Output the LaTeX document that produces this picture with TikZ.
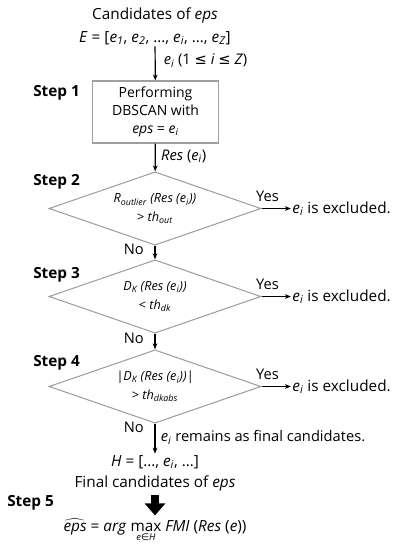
\documentclass[tikz,border=0pt]{standalone}
\usepackage{fontspec}
\setmainfont{Open Sans}
\newfontfamily\symfont{DejaVu Sans}
\usetikzlibrary{positioning, arrows.meta, shapes.geometric}
\newcommand{\ix}[1]{\textsubscript{\itshape #1}}
\newcommand{\ei}{\textit{e}\ix{i}}

\begin{document}
\begin{tikzpicture}[
  x=0.75pt, y=-0.75pt,
  txt/.style={font=\fontsize{11.5}{14}\selectfont, inner sep=1pt},
  lbl/.style={font=\fontsize{11}{13}\selectfont, inner sep=1pt},
  stepname/.style={font=\fontsize{11.5}{14}\selectfont\bfseries, anchor=west, inner sep=0pt},
  procbox/.style={rectangle, draw=gray!75, line width=0.8pt, minimum width=95pt,
                  minimum height=46.5pt, align=center, inner sep=0pt,
                  font=\fontsize{10.5}{13.5}\selectfont},
  decision/.style={diamond, aspect=2.9, draw=gray!75, line width=0.8pt, minimum width=159pt,
                   minimum height=55pt, inner sep=0pt, align=center,
                   font=\fontsize{9.5}{13}\selectfont\itshape},
  flow/.style={-{Stealth[length=4.5pt, width=3.5pt]}, line width=0.9pt},
  bigarrow/.style={-{Triangle[length=9pt, width=15pt]}, line width=6.5pt}
]
\useasboundingbox (0,0) rectangle (403,550);

\node[txt] (cand) at (155,15) {Candidates of \textit{eps}};
\node[txt] (eset) at (155,38) {\textit{E} = [\textit{e}\ix{1}, \textit{e}\ix{2}, \dots, \ei, \dots, \textit{e}\ix{Z}]};
\node[procbox] (dbscan) at (155.5,112) {Performing\\DBSCAN with\\\textit{eps} = \ei};
\node[decision] (chkout) at (155,208.5) {\textit{R}\ix{outlier} (\textit{Res} (\ei))\\[1pt]\upshape> \textit{th}\ix{out}};
\node[decision] (chkdk) at (155,296.5) {\textit{D}\ix{K} (\textit{Res} (\ei))\\[1pt]\upshape< \textit{th}\ix{dk}};
\node[decision] (chkabs) at (155,386.5) {|\textit{D}\ix{K} (\textit{Res} (\ei))|\\[1pt]\upshape> \textit{th}\ix{dkabs}};
\node[txt] (hset) at (155,462) {\textit{H} = [\dots, \ei, \dots]};
\node[txt] (fincand) at (155,483) {Final candidates of \textit{eps}};
\node[txt, anchor=base] (epshat) at (155,531)
  {$\widehat{\hbox{\itshape eps}}$ = \textit{arg} $\mathop{\hbox{max}}\limits_{\hbox{\fontsize{7}{8}\selectfont\itshape e{\symfont ∈}H}}$ \textit{FMI} (\textit{Res} (\textit{e}))};

% results of the checks
\node[txt, right=22pt of chkout] (exout) {\ei{} is excluded.};
\node[txt, right=22pt of chkdk] (exdk) {\ei{} is excluded.};
\node[txt, right=22pt of chkabs] (exabs) {\ei{} is excluded.};

% step names
\node[stepname] (step1) at (33,93) {Step 1};
\node[stepname] (step2) at (33,182) {Step 2};
\node[stepname] (step3) at (33,275) {Step 3};
\node[stepname] (step4) at (33,363) {Step 4};
\node[stepname] (step5) at (7,503) {Step 5};

% main flow
\draw[flow] (eset) -- node[lbl, right=5pt, pos=0.42] {\ei{} (1 {\symfont ≤} \textit{i} {\symfont ≤} \textit{Z})} (dbscan);
\draw[flow] (dbscan) -- node[lbl, right=3pt, pos=0.45] {\textit{Res} (\ei)} (chkout);
\draw[flow] (chkout) -- node[lbl, left=7pt, pos=0.3] {No} (chkdk);
\draw[flow] (chkdk) -- node[lbl, left=7pt, pos=0.3] {No} (chkabs);
\draw[flow] (chkabs) -- node[lbl, left=7pt, pos=0.12] {No}
  node[lbl, right=3pt, pos=0.45] {\ei{} remains as final candidates.} (hset);

% yes branches
\draw[flow] (chkout.east) -- node[lbl, above=4pt, pos=0.2] {Yes} (exout);
\draw[flow] (chkdk.east) -- node[lbl, above=4pt, pos=0.2] {Yes} (exdk);
\draw[flow] (chkabs.east) -- node[lbl, above=4pt, pos=0.2] {Yes} (exabs);

\draw[bigarrow, shorten <=2pt, shorten >=1pt] (fincand.south) -- (epshat.north);
\end{tikzpicture}
\end{document}
